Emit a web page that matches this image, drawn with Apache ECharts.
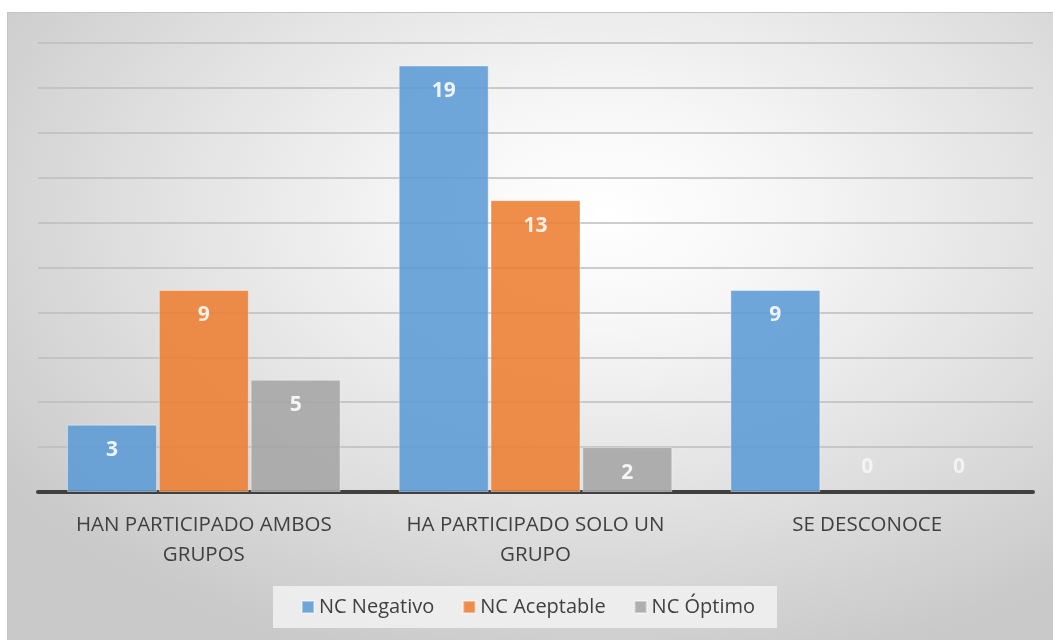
<!DOCTYPE html>
<html>
<head>
<meta charset="utf-8">
<script src="https://cdn.jsdelivr.net/npm/echarts@6/dist/echarts.min.js"></script>
<style>
  html, body { margin: 0; padding: 0; background: #ffffff; }
  #myChart {
    position: absolute;
    left: 7px;
    top: 12px;
    width: 1046px;
    height: 628px;
    box-sizing: border-box;
    border-left: 1px solid #c4c4c4;
    border-top: 1px solid #c4c4c4;
    background: radial-gradient(ellipse 70% 75% at 57% 32%, #ffffff 0%, #f6f6f6 25%, #e2e2e2 60%, #c9c9c9 100%);
  }
</style>
</head>
<body>
<div id="myChart"></div>
<script>
// categorias y valores
var categories = ["HAN PARTICIPADO AMBOS\nGRUPOS", "HA PARTICIPADO SOLO UN\nGRUPO", "SE DESCONOCE"];
var seriesNames = ["NC Negativo", "NC Aceptable", "NC Óptimo"];
var ncNegativo = [3, 19, 9];
var ncAceptable = [9, 13, 0];
var ncOptimo = [5, 2, 0];
var seriesColors = ["#5b9bd5", "#ed7d31", "#a5a5a5"];

function buildData(values) {
  // las barras en cero muestran la etiqueta encima del eje
  return values.map(function(v) {
    if (v === 0) {
      return {
        value: v,
        itemStyle: { borderWidth: 0 },
        label: { position: "top", distance: 14, color: "rgba(255,255,255,0.75)" }
      };
    }
    return v;
  });
}

function makeSeries(name, values, color) {
  return {
    name: name,
    type: "bar",
    barWidth: 90,
    barGap: "2%",
    data: buildData(values),
    itemStyle: {
      color: color,
      opacity: 0.88,
      borderColor: "rgba(255,255,255,0.45)",
      borderWidth: 1
    },
    label: {
      show: true,
      position: "insideTop",
      distance: 15,
      color: "#ffffff",
      fontFamily: "Open Sans",
      fontWeight: "bold",
      fontSize: 21
    }
  };
}

var myChart = echarts.init(document.getElementById("myChart"));
myChart.setOption({
  backgroundColor: "transparent",
  animation: false,
  grid: {
    left: 30,
    right: 20,
    top: 30,
    bottom: 148
  },
  legend: {
    data: seriesNames,
    left: 265,
    top: 573,
    padding: [11, 22, 11, 28],
    backgroundColor: "rgba(240,240,240,0.9)",
    itemWidth: 12,
    itemHeight: 12,
    itemGap: 28,
    icon: "rect",
    textStyle: {
      color: "#404040",
      fontFamily: "Open Sans",
      fontSize: 20,
      padding: [0, 0, 0, 0]
    }
  },
  xAxis: {
    type: "category",
    data: categories,
    axisLine: { lineStyle: { color: "#404040", width: 4 } },
    axisTick: { show: false },
    axisLabel: {
      interval: 0,
      hideOverlap: false,
      color: "#404040",
      fontFamily: "Open Sans",
      fontSize: 20.5,
      lineHeight: 30,
      margin: 18
    }
  },
  yAxis: {
    type: "value",
    min: 0,
    max: 20,
    interval: 2,
    axisLabel: { show: false },
    axisLine: { show: false },
    axisTick: { show: false },
    splitLine: { lineStyle: { color: "#bdbdbd", width: 1.5 } }
  },
  series: [
    makeSeries(seriesNames[0], ncNegativo, seriesColors[0]),
    makeSeries(seriesNames[1], ncAceptable, seriesColors[1]),
    makeSeries(seriesNames[2], ncOptimo, seriesColors[2])
  ]
});
</script>
</body>
</html>
